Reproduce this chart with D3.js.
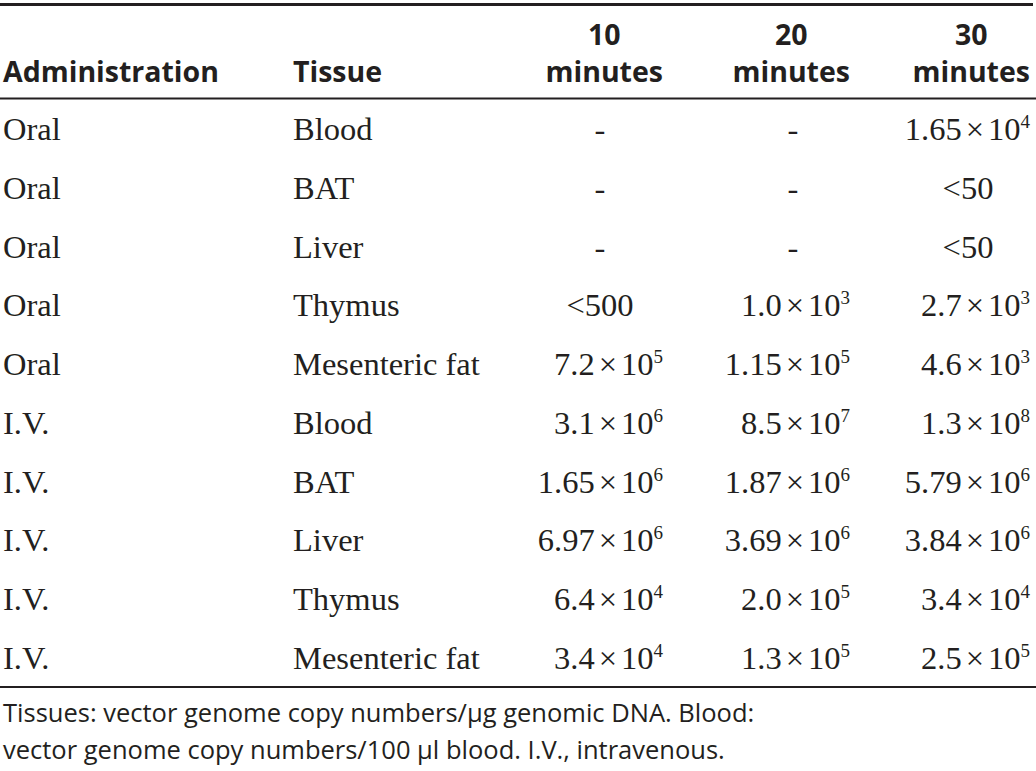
<!DOCTYPE html>
<html>
<head>
<meta charset="utf-8">
<script src="https://cdn.jsdelivr.net/npm/d3@7"></script>
<style>
  body { margin: 0; background: #fff; }
</style>
</head>
<body>
<div id="chart"></div>
<script>
var w = 1036;
var h = 771;

var columns = ["Administration", "Tissue", "10 minutes", "20 minutes", "30 minutes"];
var administration = ["Oral", "Oral", "Oral", "Oral", "Oral", "I.V.", "I.V.", "I.V.", "I.V.", "I.V."];
var tissues = ["Blood", "BAT", "Liver", "Thymus", "Mesenteric fat", "Blood", "BAT", "Liver", "Thymus", "Mesenteric fat"];
var min10 = ["-", "-", "-", "<500", "7.2×10^5", "3.1×10^6", "1.65×10^6", "6.97×10^6", "6.4×10^4", "3.4×10^4"];
var min20 = ["-", "-", "-", "1.0×10^3", "1.15×10^5", "8.5×10^7", "1.87×10^6", "3.69×10^6", "2.0×10^5", "1.3×10^5"];
var min30 = ["1.65×10^4", "<50", "<50", "2.7×10^3", "4.6×10^3", "1.3×10^8", "5.79×10^6", "3.84×10^6", "3.4×10^4", "2.5×10^5"];
var footnote = [
    "Tissues: vector genome copy numbers/µg genomic DNA. Blood:",
    "vector genome copy numbers/100 µl blood. I.V., intravenous."
];

var ink = "#231f20";
var serif = "'Liberation Serif', 'Times New Roman', serif";
var sans = "'Open Sans', 'Noto Sans', sans-serif";

// value columns: right edge for numbers, centre for short entries
var valueCols = [
    { values: min10, right: 663, centre: 600 },
    { values: min20, right: 850, centre: 793 },
    { values: min30, right: 1030, centre: 968 }
];

var y = d3.scaleLinear()
    .domain([0, tissues.length - 1])
    .range([140, 669]);

var svg = d3.select("#chart")
    .append("svg")
    .attr("width", w)
    .attr("height", h);

// rules
svg.append("line").attr("x1", 0).attr("x2", 1033).attr("y1", 4.5).attr("y2", 4.5)
    .attr("stroke", ink).attr("stroke-width", 3);
svg.append("line").attr("x1", 0).attr("x2", w).attr("y1", 98.5).attr("y2", 98.5)
    .attr("stroke", ink).attr("stroke-width", 2);
svg.append("line").attr("x1", 0).attr("x2", w).attr("y1", 687).attr("y2", 687)
    .attr("stroke", ink).attr("stroke-width", 2);

// header
var header = svg.append("g")
    .attr("font-family", sans)
    .attr("font-weight", 700)
    .attr("font-size", 28.5)
    .attr("fill", ink);

header.append("text").attr("x", 3).attr("y", 82).text(columns[0]);
header.append("text").attr("x", 293).attr("y", 82).text(columns[1]);

valueCols.forEach(function(c, i) {
    var parts = columns[i + 2].split(" ");
    var t = header.append("text").attr("x", c.right).attr("y", 82)
        .attr("text-anchor", "end").text(parts[1]);
    var wMin = t.node().getComputedTextLength();
    header.append("text")
        .attr("x", c.right - wMin / 2)
        .attr("y", 45)
        .attr("text-anchor", "middle")
        .text(parts[0]);
});

// body
var body = svg.append("g")
    .attr("font-family", serif)
    .attr("font-size", 32.5)
    .attr("fill", ink);

body.selectAll("text.adm")
    .data(administration)
    .enter()
    .append("text")
    .attr("class", "adm")
    .attr("x", 3)
    .attr("y", function(d, i) { return y(i); })
    .text(function(d) { return d; });

body.selectAll("text.tis")
    .data(tissues)
    .enter()
    .append("text")
    .attr("class", "tis")
    .attr("x", 293)
    .attr("y", function(d, i) { return y(i); })
    .text(function(d) { return d; });

valueCols.forEach(function(c, ci) {
    body.selectAll("text.v" + ci)
        .data(c.values)
        .enter()
        .append("text")
        .attr("class", "v" + ci)
        .attr("y", function(d, i) { return y(i); })
        .each(function(d) {
            var el = d3.select(this);
            if (d.indexOf("^") < 0) {
                el.attr("x", c.centre).attr("text-anchor", "middle").text(d);
                return;
            }
            var parts = d.split("^");
            var base = parts[0].split("×");
            el.attr("x", c.right).attr("text-anchor", "end");
            el.append("tspan").text(base[0]);
            el.append("tspan").attr("dx", 4).text("×");
            el.append("tspan").attr("dx", 4).text(base[1]);
            el.append("tspan")
                .attr("font-size", 19)
                .attr("dy", -12)
                .text(parts[1]);
        });
});

// footnote
svg.append("g")
    .attr("font-family", sans)
    .attr("font-size", 25.5)
    .attr("fill", ink)
    .selectAll("text")
    .data(footnote)
    .enter()
    .append("text")
    .attr("x", 3)
    .attr("y", function(d, i) { return 722 + i * 37; })
    .text(function(d) { return d; });
</script>
</body>
</html>
